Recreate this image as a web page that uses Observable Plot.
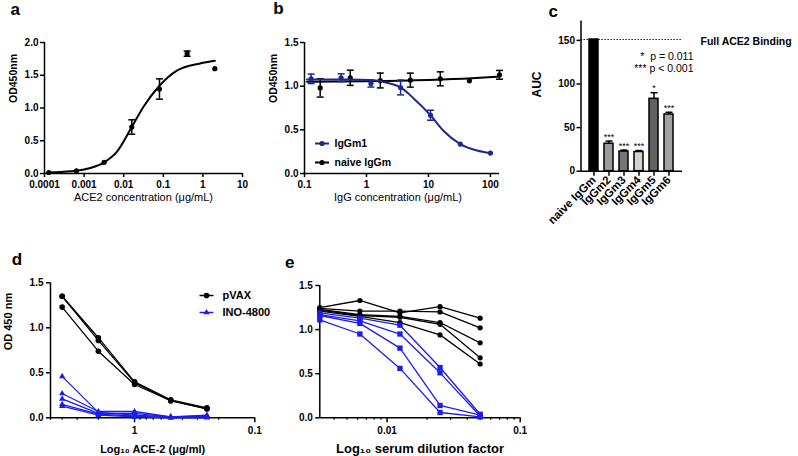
<!DOCTYPE html>
<html><head><meta charset="utf-8">
<script src="https://cdn.jsdelivr.net/npm/d3@7"></script>
<script src="https://cdn.jsdelivr.net/npm/@observablehq/plot@0.6"></script>
<style>
html,body{margin:0;padding:0;background:#fff;}
#wrap{position:relative;width:798px;height:456px;overflow:hidden;background:#fff;}
</style></head>
<body><div id="wrap"></div>
<script>
// ---------------- data ----------------
// panel a
const aConc = [0.000128, 0.00064, 0.0032, 0.016, 0.08, 0.4, 2];
const aOD = [0.015, 0.04, 0.17, 0.71, 1.29, 1.83, 1.60];
const aErr = [0, 0, 0, 0.11, 0.155, 0.04, 0];
const aFitConc = [0.00012, 0.00046, 0.001, 0.0032, 0.0067, 0.016, 0.0316, 0.08, 0.22, 0.85, 2];
const aFitOD = [0.015, 0.035, 0.06, 0.17, 0.33, 0.71, 1.02, 1.34, 1.57, 1.68, 1.72];
const aXTicks = [0.0001, 0.001, 0.01, 0.1, 1, 10];
const aXLabels = ["0.0001", "0.001", "0.01", "0.1", "1", "10"];
const aYTicks = [0, 0.5, 1, 1.5, 2];
// panel b
const bLegend = ["IgGm1", "naive IgGm"];
const bIgGm1Conc = [0.128, 0.39, 1.18, 3.55, 10.8, 32.6, 100];
const bIgGm1OD = [1.084, 1.096, 1.03, 0.985, 0.667, 0.337, 0.234];
const bIgGm1Err = [0.054, 0.045, 0.04, 0.085, 0.057, 0, 0];
const bNaiveConc = [0.179, 0.547, 1.67, 5.1, 15.5, 45.7, 140];
const bNaiveOD = [0.98, 1.096, 1.065, 1.069, 1.084, 1.061, 1.13];
const bNaiveErr = [0.105, 0.087, 0.085, 0.08, 0.08, 0, 0.05];
const bFit1Conc = [0.11, 0.5, 1.15, 2.14, 3.55, 5.77, 10.8, 17.6, 32.6, 60.8, 100];
const bFit1OD = [1.077, 1.075, 1.07, 1.04, 0.985, 0.86, 0.667, 0.487, 0.337, 0.264, 0.234];
const bFitNaiveConc = [0.11, 1, 10, 50, 140];
const bFitNaiveOD = [1.05, 1.055, 1.07, 1.09, 1.11];
const bXTicks = [0.1, 1, 10, 100];
const bXLabels = ["0.1", "1", "10", "100"];
const bYTicks = [0, 0.5, 1, 1.5];
// panel c
const cGroups = ["naive IgGm", "IgGm2", "IgGm3", "IgGm4", "IgGm5", "IgGm6"];
const cAUC = [151, 31.5, 22.5, 22, 83, 65];
const cErr = [0, 3, 1.7, 1.7, 7, 2.5];
const cStars = ["", "***", "***", "***", "*", "***"];
const cFills = ["#000000", "#9a9a9a", "#767676", "#d2d2d2", "#616161", "#a2a2a2"];
const cFull = 151;
const cYTicks = [0, 50, 100, 150];
const cNotes = ["*\u00a0\u00a0p = 0.011", "*** p < 0.001"];
// panel d
const dLegend = ["pVAX", "INO-4800"];
const dConc = [4, 2, 1, 0.5, 0.25];
const dPVAX = [
  [1.35, 0.89, 0.40, 0.20, 0.11],
  [1.35, 0.86, 0.39, 0.19, 0.10],
  [1.23, 0.74, 0.37, 0.19, 0.10]
];
const dINO = [
  [0.46, 0.06, 0.03, 0.01, 0.01],
  [0.27, 0.07, 0.07, 0.01, 0.02],
  [0.21, 0.05, 0.05, 0.01, 0.03],
  [0.15, 0.04, 0.02, 0.00, 0.01],
  [0.13, 0.03, 0.01, 0.00, 0.00]
];
const dMajor = [1, 0.1];
const dMajorLabels = ["1", "0.1"];
const dMinor = [5, 4, 3, 2, 0.9, 0.8, 0.7, 0.6, 0.5, 0.4, 0.3, 0.2];
// panel e
const eDil = [0.003125, 0.00625, 0.0125, 0.025, 0.05];
const ePVAX = [
  [1.25, 1.33, 1.19, 1.26, 1.13],
  [1.24, 1.21, 1.21, 1.20, 1.02],
  [1.23, 1.17, 1.15, 1.08, 0.85],
  [1.22, 1.16, 1.14, 1.06, 0.68],
  [1.21, 1.15, 1.08, 0.94, 0.61]
];
const eINO = [
  [1.19, 1.13, 1.05, 0.57, 0.04],
  [1.17, 1.10, 0.95, 0.51, 0.02],
  [1.16, 1.07, 0.79, 0.14, 0.03],
  [1.11, 0.95, 0.56, 0.06, 0.01]
];
const eMajor = [0.01, 0.1];
const eMajorLabels = ["0.01", "0.1"];
const eMinor = [0.004, 0.005, 0.006, 0.007, 0.008, 0.009, 0.02, 0.03, 0.04, 0.05, 0.06, 0.07, 0.08, 0.09];
const odTicks = [0, 0.5, 1, 1.5];

// ---------------- helpers ----------------
const FONT = '"Liberation Sans", Arial, Helvetica, sans-serif';
const wrap = document.getElementById("wrap");
function place(svg, left, top) {
  svg.style.position = "absolute";
  svg.style.left = left + "px";
  svg.style.top = top + "px";
  wrap.appendChild(svg);
}
const style = {fontFamily: FONT, fontSize: "10px", color: "black", background: "transparent", overflow: "visible", fontWeight: "bold"};
const fmt1 = d => d.toFixed(1);
const capSym = {draw(ctx) { ctx.moveTo(-3.5, 0); ctx.lineTo(3.5, 0); }};
const segSym = {draw(ctx) { ctx.moveTo(-7, 0); ctx.lineTo(7, 0); }};
const lookup = (ticks, labels) => d => labels[ticks.indexOf(d)];
const BLUE_B = "#1d2a8c";
const BLUE = "#1c1cf0";
const LETTER = 17;

function errMarks(rows, color) {
  const er = rows.filter(d => d.e > 0);
  return [
    Plot.ruleX(er, {x: "c", y1: d => d.v - d.e, y2: d => d.v + d.e, stroke: color, strokeWidth: 1.5}),
    Plot.dot(er, {x: "c", y: d => d.v - d.e, symbol: capSym, stroke: color, strokeWidth: 1.5}),
    Plot.dot(er, {x: "c", y: d => d.v + d.e, symbol: capSym, stroke: color, strokeWidth: 1.5})
  ];
}

// ---------------- panel a ----------------
{
  const rows = aConc.map((c, i) => ({c, v: aOD[i], e: aErr[i]}));
  const fit = aFitConc.map((c, i) => ({c, v: aFitOD[i]}));
  const svg = Plot.plot({
    width: 265, height: 210, marginLeft: 44, marginRight: 23, marginTop: 42, marginBottom: 37,
    style,
    x: {type: "log", domain: [aXTicks[0], aXTicks[aXTicks.length - 1]]},
    y: {domain: [0, 2]},
    marks: [
      Plot.ruleY([0], {strokeWidth: 1.5}),
      Plot.ruleX([aXTicks[0]], {strokeWidth: 1.5}),
      Plot.axisX({ticks: aXTicks, tickFormat: lookup(aXTicks, aXLabels), tickSize: 4, tickPadding: 3, label: null, strokeWidth: 1.5}),
      Plot.axisY({ticks: aYTicks, tickFormat: fmt1, tickSize: 4, tickPadding: 2, label: null, strokeWidth: 1.5}),
      Plot.line(fit, {x: "c", y: "v", curve: "monotone-x", strokeWidth: 2}),
      ...errMarks(rows, "black"),
      Plot.dot(rows, {x: "c", y: "v", r: 2.6, fill: "black"}),
      Plot.text(["a"], {frameAnchor: "top-left", dx: 10 - 44, dy: 9 - 42, textAnchor: "start", lineAnchor: "middle", fontSize: LETTER}),
      Plot.text(["OD450nm"], {frameAnchor: "left", rotate: -90, dx: 13 - 44, dy: -5, fontSize: 10.5, lineAnchor: "middle"}),
      Plot.text(["ACE2 concentration (\u03bcg/mL)"], {frameAnchor: "bottom", dy: 197 - 173, fontSize: 11, fontWeight: "normal", lineAnchor: "middle"})
    ]
  });
  place(svg, 0, 0);
}

// ---------------- panel b ----------------
{
  const r1 = bIgGm1Conc.map((c, i) => ({c, v: bIgGm1OD[i], e: bIgGm1Err[i]}));
  const r2 = bNaiveConc.map((c, i) => ({c, v: bNaiveOD[i], e: bNaiveErr[i]}));
  const f1 = bFit1Conc.map((c, i) => ({c, v: bFit1OD[i]}));
  const f2 = bFitNaiveConc.map((c, i) => ({c, v: bFitNaiveOD[i]}));
  const colors = [BLUE_B, "black"];
  const svg = Plot.plot({
    width: 265, height: 210, marginLeft: 44, marginRight: 26, marginTop: 42, marginBottom: 37,
    style,
    x: {type: "log", domain: [bXTicks[0], bNaiveConc[bNaiveConc.length - 1]]},
    y: {domain: [0, 1.5]},
    marks: [
      Plot.ruleY([0], {strokeWidth: 1.5}),
      Plot.ruleX([bXTicks[0]], {strokeWidth: 1.5}),
      Plot.axisX({ticks: bXTicks, tickFormat: lookup(bXTicks, bXLabels), tickSize: 4, tickPadding: 3, label: null, strokeWidth: 1.5}),
      Plot.axisY({ticks: bYTicks, tickFormat: fmt1, tickSize: 4, tickPadding: 2, label: null, strokeWidth: 1.5}),
      Plot.line(f2, {x: "c", y: "v", curve: "monotone-x", strokeWidth: 2, stroke: "black"}),
      ...errMarks(r2, "black"),
      Plot.dot(r2, {x: "c", y: "v", r: 2.6, fill: "black"}),
      Plot.line(f1, {x: "c", y: "v", curve: "monotone-x", strokeWidth: 2, stroke: BLUE_B}),
      ...errMarks(r1, BLUE_B),
      Plot.dot(r1, {x: "c", y: "v", r: 2.6, fill: BLUE_B}),
      // legend
      ...bLegend.flatMap((name, i) => [
        Plot.dot([name], {frameAnchor: "bottom-left", dx: 17.5, dy: -30 + i * 19, symbol: segSym, stroke: colors[i], strokeWidth: 2}),
        Plot.dot([name], {frameAnchor: "bottom-left", dx: 17.5, dy: -30 + i * 19, r: 2.6, fill: colors[i]}),
        Plot.text([name], {frameAnchor: "bottom-left", dx: 30, dy: -30 + i * 19, textAnchor: "start", lineAnchor: "middle", fontSize: 10.5})
      ]),
      Plot.text(["b"], {frameAnchor: "top-left", dx: 12.7 - 44, dy: 8.5 - 42, textAnchor: "start", lineAnchor: "middle", fontSize: LETTER}),
      Plot.text(["OD450nm"], {frameAnchor: "left", rotate: -90, dx: 13.3 - 44, dy: -5, fontSize: 10.5, lineAnchor: "middle"}),
      Plot.text(["IgG concentration (\u03bcg/mL)"], {frameAnchor: "bottom", dx: -4, dy: 197 - 173, fontSize: 11, fontWeight: "normal", lineAnchor: "middle"})
    ]
  });
  place(svg, 260, 0);
}

// ---------------- panel c ----------------
{
  const rows = cGroups.map((g, i) => ({g, v: cAUC[i], e: cErr[i], s: cStars[i], f: cFills[i]}));
  const er = rows.filter(d => d.e > 0);
  const svg = Plot.plot({
    width: 278, height: 230, marginLeft: 60.5, marginRight: 116, marginTop: 20.7, marginBottom: 59.3,
    style,
    x: {domain: cGroups, paddingInner: 0.41, paddingOuter: 0.45},
    y: {domain: [0, 172]},
    color: {type: "identity"},
    marks: [
      Plot.ruleY([cFull], {strokeWidth: 1.2, strokeDasharray: "1.3,1.7"}),
      Plot.barY(rows, {x: "g", y: "v", fill: "f", stroke: "black", strokeWidth: 1.5}),
      Plot.ruleX(er, {x: "g", y1: "v", y2: d => d.v + d.e, strokeWidth: 1.5}),
      Plot.dot(er, {x: "g", y: d => d.v + d.e, symbol: capSym, stroke: "black", strokeWidth: 1.5}),
      Plot.text(rows.filter(d => d.s), {x: "g", y: d => d.v + d.e, text: "s", dy: -1.5, lineAnchor: "bottom", fontSize: 9, fontWeight: "normal"}),
      Plot.ruleY([0], {strokeWidth: 1.5}),
      Plot.frame({anchor: "left", strokeWidth: 1.5}),
      Plot.axisY({ticks: cYTicks, tickSize: 4, tickPadding: 2, label: null, strokeWidth: 1.5}),
      Plot.axisX({tickRotate: -45, tickSize: 5, tickPadding: 2, label: null, strokeWidth: 1.5, fontSize: 11.5}),
      Plot.text([cFull], {y: d => d, frameAnchor: "right", dx: 18, dy: 2.5, text: () => "Full ACE2 Binding", textAnchor: "start", lineAnchor: "middle", fontSize: 10.5}),
      Plot.text([cNotes[0]], {frameAnchor: "top-right", dx: 11, dy: 55.7 - 20.7, textAnchor: "end", lineAnchor: "middle", fontSize: 10.5, fontWeight: "normal"}),
      Plot.text([cNotes[1]], {frameAnchor: "top-right", dx: 11, dy: 68.3 - 20.7, textAnchor: "end", lineAnchor: "middle", fontSize: 10.5, fontWeight: "normal"}),
      Plot.text(["c"], {frameAnchor: "top-left", dx: 28 - 60.5, dy: 10.7 - 20.7, textAnchor: "start", lineAnchor: "middle", fontSize: LETTER}),
      Plot.text(["AUC"], {frameAnchor: "left", rotate: -90, dx: 17 - 60.5, dy: 1.3, fontSize: 12, lineAnchor: "middle"})
    ]
  });
  place(svg, 520, 0);
}

// ---------------- panel d ----------------
{
  const pv = dPVAX.flatMap((s, k) => dConc.map((c, i) => ({k, c, v: s[i]})));
  const ino = dINO.flatMap((s, k) => dConc.map((c, i) => ({k, c, v: s[i]})));
  const colors = ["black", BLUE];
  const syms = ["circle", "triangle"];
  const svg = Plot.plot({
    width: 275, height: 216, marginLeft: 50, marginRight: 20.7, marginTop: 42.3, marginBottom: 38.7,
    style,
    x: {type: "log", domain: [dMinor[0], dMajor[1]]},
    y: {domain: [0, 1.5]},
    marks: [
      Plot.ruleY([0], {strokeWidth: 1.5}),
      Plot.ruleX([dMinor[0]], {strokeWidth: 1.5}),
      Plot.axisX({ticks: dMinor, tickFormat: () => "", tickSize: 2.5, label: null, strokeWidth: 1.2}),
      Plot.axisX({ticks: dMajor, tickFormat: lookup(dMajor, dMajorLabels), tickSize: 5, tickPadding: 4, label: null, strokeWidth: 1.5}),
      Plot.axisY({ticks: odTicks, tickFormat: fmt1, tickSize: 4, tickPadding: 3, label: null, strokeWidth: 1.5}),
      Plot.line(pv, {x: "c", y: "v", z: "k", stroke: "black", strokeWidth: 1.3}),
      Plot.dot(pv, {x: "c", y: "v", r: 2.8, fill: "black"}),
      Plot.line(ino, {x: "c", y: "v", z: "k", stroke: BLUE, strokeWidth: 1.3}),
      Plot.dot(ino, {x: "c", y: "v", r: 2.3, symbol: "triangle", fill: BLUE}),
      ...dLegend.flatMap((name, i) => [
        Plot.dot([name], {frameAnchor: "top-left", dx: 156, dy: 12.7 + i * 17, symbol: segSym, stroke: colors[i], strokeWidth: 1.5}),
        Plot.dot([name], {frameAnchor: "top-left", dx: 156, dy: 12.7 + i * 17, r: i ? 2.3 : 2.8, symbol: syms[i], fill: colors[i]}),
        Plot.text([name], {frameAnchor: "top-left", dx: 172, dy: 12.7 + i * 17, textAnchor: "start", lineAnchor: "middle", fontSize: 11})
      ]),
      Plot.text(["d"], {frameAnchor: "top-left", dx: 11.2 - 50, dy: 259.5 - 282.3, textAnchor: "start", lineAnchor: "middle", fontSize: LETTER}),
      Plot.text(["OD 450 nm"], {frameAnchor: "left", rotate: -90, dx: 8 - 50, fontSize: 11, lineAnchor: "middle"}),
      Plot.text(["Log\u2081\u2080 ACE-2 (\u03bcg/ml)"], {frameAnchor: "bottom", dx: 0, dy: 31.5, fontSize: 11, lineAnchor: "middle"})
    ]
  });
  place(svg, 0, 240);
}

// ---------------- panel e ----------------
{
  const pv = ePVAX.flatMap((s, k) => eDil.map((c, i) => ({k, c, v: s[i]})));
  const ino = eINO.flatMap((s, k) => eDil.map((c, i) => ({k, c, v: s[i]})));
  const svg = Plot.plot({
    width: 290, height: 216, marginLeft: 59.3, marginRight: 30.3, marginTop: 45, marginBottom: 38.7,
    style,
    x: {type: "log", domain: [eDil[0], eMajor[1]]},
    y: {domain: [0, 1.5]},
    marks: [
      Plot.ruleY([0], {strokeWidth: 1.5}),
      Plot.ruleX([eDil[0]], {strokeWidth: 1.5}),
      Plot.axisX({ticks: eMinor, tickFormat: () => "", tickSize: 2.5, label: null, strokeWidth: 1.2}),
      Plot.axisX({ticks: eMajor, tickFormat: lookup(eMajor, eMajorLabels), tickSize: 5, tickPadding: 4, label: null, strokeWidth: 1.5}),
      Plot.axisY({ticks: odTicks, tickFormat: fmt1, tickSize: 4, tickPadding: 3, label: null, strokeWidth: 1.5}),
      Plot.line(pv, {x: "c", y: "v", z: "k", stroke: "black", strokeWidth: 1.3}),
      Plot.dot(pv, {x: "c", y: "v", r: 2.6, fill: "black"}),
      Plot.line(ino, {x: "c", y: "v", z: "k", stroke: BLUE, strokeWidth: 1.3}),
      Plot.dot(ino, {x: "c", y: "v", r: 3, symbol: "square", fill: BLUE}),
      Plot.text(["e"], {frameAnchor: "top-left", dx: 284.5 - 319.3, dy: 261.7 - 285, textAnchor: "start", lineAnchor: "middle", fontSize: LETTER}),
      Plot.text(["Log\u2081\u2080 serum dilution factor"], {frameAnchor: "bottom", dx: 0, dy: 31.5, fontSize: 13, lineAnchor: "middle"})
    ]
  });
  place(svg, 260, 240);
}
</script>
</body></html>
